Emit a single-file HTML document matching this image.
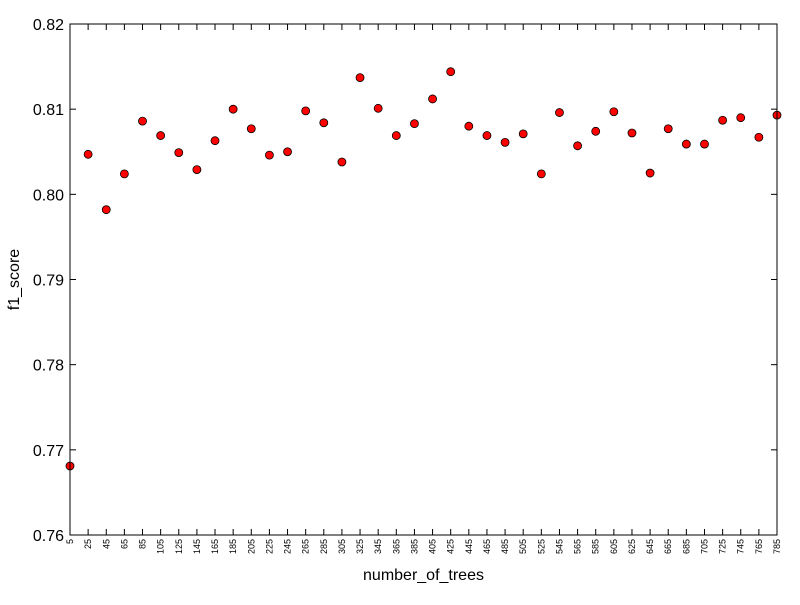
<!DOCTYPE html>
<html><head><meta charset="utf-8"><style>
body{margin:0;background:#fff;font-family:"Liberation Sans","DejaVu Sans",sans-serif}
</style></head><body>
<svg id="chart" width="800" height="600" xmlns="http://www.w3.org/2000/svg">
<rect width="800" height="600" fill="#fff"/>
<g id="plot"></g>
</svg>
<script>
const xValues=[5,25,45,65,85,105,125,145,165,185,205,225,245,265,285,305,325,345,365,385,405,425,445,465,485,505,525,545,565,585,605,625,645,665,685,705,725,745,765,785];
const f1Scores=[0.7681,0.8047,0.7982,0.8024,0.8086,0.8069,0.8049,0.8029,0.8063,0.8100,0.8077,0.8046,0.8050,0.8098,0.8084,0.8038,0.8137,0.8101,0.8069,0.8083,0.8112,0.8144,0.8080,0.8069,0.8061,0.8071,0.8024,0.8096,0.8057,0.8074,0.8097,0.8072,0.8025,0.8077,0.8059,0.8059,0.8087,0.8090,0.8067,0.8093];
const yTicks=[0.76,0.77,0.78,0.79,0.80,0.81,0.82];
const xTicks=xValues;
const L=70,R=777,T=24,B=535;
const sx=v=>L+(v-5)/(785-5)*(R-L);
const sy=v=>B-(v-0.76)/(0.82-0.76)*(B-T);
const NS="http://www.w3.org/2000/svg";
const g=document.getElementById('plot');
function mk(t,a,p){const e=document.createElementNS(NS,t);for(const k in a)e.setAttribute(k,a[k]);(p||g).appendChild(e);return e;}
yTicks.forEach(v=>{const y=sy(v);
 let e=mk('line',{x1:L,x2:L+6,y1:y,y2:y,stroke:'#000'});
 
 
 e=mk('line',{x1:R-6,x2:R,y1:y,y2:y,stroke:'#000'});
 
 
 e=mk('text',{x:L-6,y:y+6,'text-anchor':'end','font-size':16});
 e.textContent=v.toFixed(2);
 
 
});
xTicks.forEach(v=>{const x=sx(v);
 let e=mk('line',{x1:x,x2:x,y1:B,y2:B-6,stroke:'#000'});
 
 
 e=mk('line',{x1:x,x2:x,y1:T,y2:T+6,stroke:'#000'});
 
 
 e=mk('text',{x:0,y:0,'text-anchor':'end','font-size':9,transform:`translate(${x+3},${B+4}) rotate(-90)`});
 e.textContent=v;
 
 
});
xValues.forEach((v,i)=>{
 const c=mk('circle',{cx:sx(v),cy:sy(f1Scores[i]),r:4,fill:'#f00',stroke:'#000','stroke-width':0.8});
 
 
});
let fr=mk('rect',{x:L,y:T,width:R-L,height:B-T,fill:'none',stroke:'#000','stroke-width':1});


let xl=mk('text',{x:(L+R)/2,y:580,'text-anchor':'middle','font-size':16});
xl.textContent='number_of_trees';


let yl=mk('text',{x:0,y:0,'text-anchor':'middle','font-size':16,transform:`translate(19,${(T+B)/2}) rotate(-90)`});
yl.textContent='f1_score';


</script>
</body></html>
